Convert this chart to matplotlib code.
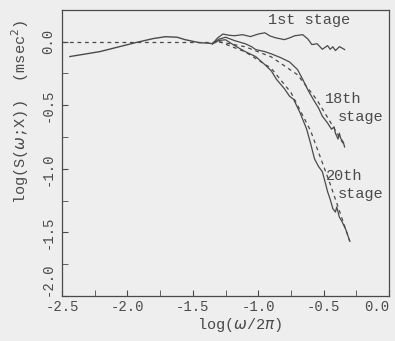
import matplotlib.pyplot as plt
from matplotlib.ticker import MultipleLocator

# common low-frequency part (all stages overlap)
common_x = [-2.44, -2.21, -1.94, -1.80, -1.71, -1.62, -1.56, -1.45, -1.38, -1.35]
common_y = [-0.117, -0.078, -0.008, 0.025, 0.039, 0.035, 0.016, -0.008, -0.012, -0.016]

# 1st stage
s1_x = [-1.35, -1.31, -1.27, -1.22, -1.18, -1.12, -1.06, -1.00, -0.95, -0.91, -0.87,
        -0.80, -0.76, -0.72, -0.66, -0.62, -0.59, -0.55, -0.51, -0.49, -0.47,
        -0.45, -0.43, -0.41, -0.39, -0.38, -0.36, -0.34]
s1_y = [-0.016, 0.030, 0.060, 0.050, 0.047, 0.055, 0.040, 0.060, 0.070, 0.045, 0.031,
        0.016, 0.030, 0.047, 0.055, 0.020, -0.023, -0.016, -0.060, -0.045, -0.031,
        -0.060, -0.040, -0.070, -0.050, -0.039, -0.050, -0.062]

# 18th stage
s18_x = [-1.35, -1.30, -1.25, -1.18, -1.10, -1.05, -1.02, -0.95, -0.89, -0.83, -0.76,
         -0.70, -0.66, -0.62, -0.58, -0.54, -0.51, -0.47, -0.44, -0.42, -0.41,
         -0.39, -0.38, -0.37, -0.35, -0.34]
s18_y = [-0.016, 0.020, 0.035, 0.008, -0.016, -0.040, -0.062, -0.078, -0.100, -0.125, -0.160,
         -0.219, -0.297, -0.380, -0.453, -0.520, -0.586, -0.640, -0.688, -0.670, -0.720,
         -0.766, -0.720, -0.760, -0.790, -0.828]

# 20th stage
s20_x = [-1.35, -1.30, -1.25, -1.18, -1.10, -1.02, -0.95, -0.90, -0.86, -0.80, -0.76,
         -0.73, -0.68, -0.63, -0.60, -0.57, -0.54, -0.51, -0.49, -0.47, -0.45,
         -0.43, -0.41, -0.40, -0.38, -0.36, -0.33, -0.30]
s20_y = [-0.016, 0.010, 0.015, -0.031, -0.078, -0.117, -0.180, -0.230, -0.297, -0.370, -0.430,
         -0.453, -0.560, -0.688, -0.800, -0.922, -0.980, -1.023, -1.100, -1.180, -1.240,
         -1.313, -1.340, -1.300, -1.380, -1.414, -1.480, -1.570]

# dashed (model) curves
flat_x = [-2.5, -1.30]
flat_y = [0.0, 0.0]
d18_x = [-1.30, -1.10, -0.90, -0.70, -0.55, -0.45, -0.34]
d18_y = [0.0, -0.04, -0.12, -0.26, -0.46, -0.63, -0.82]
d20_x = [-1.30, -1.10, -0.90, -0.75, -0.60, -0.45, -0.30]
d20_y = [0.0, -0.08, -0.21, -0.40, -0.70, -1.12, -1.57]

BG = "#eeeeee"
INK = "#4a4a4a"
FONT = ["Liberation Mono", "DejaVu Sans Mono"]


def main():
    plt.rcParams["font.family"] = FONT
    fig = plt.figure(figsize=(3.95, 3.41), dpi=100, facecolor=BG)
    ax = fig.add_axes([0.157, 0.132, 0.828, 0.839], facecolor=BG)

    ax.plot(common_x, common_y, color=INK, lw=1.0)
    ax.plot(s1_x, s1_y, color=INK, lw=0.9)
    ax.plot(s18_x, s18_y, color=INK, lw=0.9)
    ax.plot(s20_x, s20_y, color=INK, lw=0.9)
    for xs, ys in [(flat_x, flat_y), (d18_x, d18_y), (d20_x, d20_y)]:
        ax.plot(xs, ys, color=INK, lw=0.9, ls=(0, (3, 3)))

    ax.set_xlim(-2.5, 0.0)
    ax.set_ylim(-2.0, 0.25)
    ax.xaxis.set_minor_locator(MultipleLocator(0.25))
    ax.yaxis.set_minor_locator(MultipleLocator(0.25))
    ax.tick_params(which="both", direction="in", colors=INK, labelsize=10,
                   length=4, top=False, right=False)
    ax.tick_params(axis="x", pad=3)
    ax.tick_params(axis="y", pad=5)
    ax.set_xticks([-2.5, -2.0, -1.5, -1.0, -0.5, 0.0])
    ax.set_xticklabels(["-2.5", "-2.0", "-1.5", "-1.0", "-0.5", "0.0"])
    ax.set_yticks([0.0, -0.5, -1.0, -1.5, -2.0])
    ax.set_yticklabels(["0.0", "-0.5", "-1.0", "-1.5", "-2.0"],
                       rotation=90, va="center")
    ax.get_yticklabels()[-1].set_verticalalignment("bottom")
    xl = ax.get_xticklabels()
    xl[-1].set_horizontalalignment("right")
    xl[-1].set_x(0.0)
    for s in ax.spines.values():
        s.set_color(INK)
        s.set_linewidth(0.9)

    tk = dict(color=INK, fontsize=11)
    ax.text(-0.925, 0.17, "1st stage", va="center", **tk)
    ax.text(-0.49, -0.45, "18th", va="center", **tk)
    ax.text(-0.39, -0.59, "stage", va="center", **tk)
    ax.text(-0.48, -1.06, "20th", va="center", **tk)
    ax.text(-0.39, -1.20, "stage", va="center", **tk)

    fig.text(240 / 395, 1 - 325 / 341, "log($\\omega$/2$\\pi$)", ha="center",
             va="center", color=INK, fontsize=11)
    fig.text(20 / 395, 1 - 112 / 341, "log(S($\\omega$;X))  (msec$^2$)",
             rotation=90, ha="center", va="center", color=INK, fontsize=11)

    fig.savefig("out.png", dpi=100, facecolor=BG)


if __name__ == "__main__":
    main()
